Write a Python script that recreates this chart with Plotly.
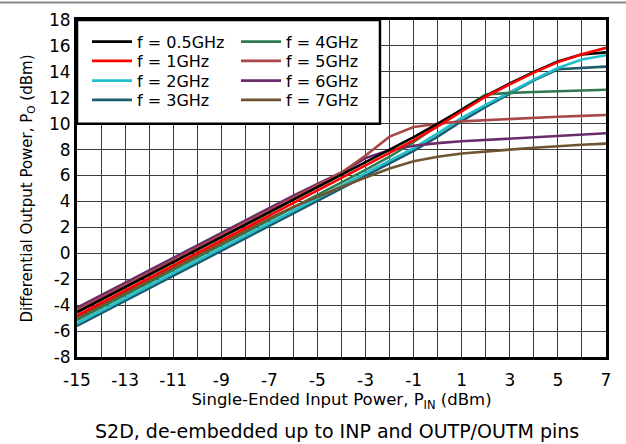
import plotly.graph_objects as go

# Input power (dBm)
pin = [-15, -14, -13, -12, -11, -10, -9, -8, -7, -6, -5, -4, -3, -2, -1, 0, 1, 2, 3, 4, 5, 6, 7]

# Differential output power (dBm) per frequency
p_05g = [-4.55, -3.59, -2.62, -1.66, -0.69, 0.28, 1.24, 2.21, 3.17, 4.14, 5.10, 6.07, 7.03, 8.00, 8.96,
         10.0, 11.05, 12.15, 13.1, 14.0, 14.8, 15.35, 15.5]
p_1g = [-4.8, -3.84, -2.87, -1.91, -0.94, 0.03, 0.99, 1.96, 2.92, 3.89, 4.85, 5.82, 6.78, 7.75, 8.71,
        9.8, 10.95, 12.1, 13.04, 13.94, 14.75, 15.35, 15.85]
p_2g = [-5.4, -4.44, -3.47, -2.51, -1.54, -0.58, 0.39, 1.36, 2.32, 3.29, 4.25, 5.22, 6.18, 7.15, 8.11,
        9.25, 10.45, 11.45, 12.45, 13.4, 14.3, 14.95, 15.28]
p_3g = [-5.6, -4.64, -3.67, -2.71, -1.74, -0.78, 0.19, 1.16, 2.12, 3.09, 4.05, 5.02, 5.98, 6.95, 7.91,
        9.0, 10.2, 11.3, 12.35, 13.35, 14.2, 14.3, 14.4]
p_4g = [-5.15, -4.19, -3.22, -2.26, -1.29, -0.33, 0.64, 1.61, 2.57, 3.54, 4.50, 5.47, 6.43, 7.45, 8.6,
        9.85, 11.1, 12.25, 12.38, 12.44, 12.5, 12.56, 12.62]
p_5g = [-4.4, -3.44, -2.47, -1.51, -0.54, 0.43, 1.39, 2.36, 3.32, 4.29, 5.25, 6.22, 7.55, 9.0, 9.75,
        10.0, 10.18, 10.28, 10.38, 10.46, 10.54, 10.6, 10.67]
p_6g = [-4.2, -3.24, -2.27, -1.31, -0.34, 0.63, 1.59, 2.56, 3.52, 4.45, 5.35, 6.25, 7.35, 7.95, 8.3,
        8.5, 8.64, 8.75, 8.86, 8.97, 9.08, 9.17, 9.26]
p_7g = [-4.95, -3.99, -3.02, -2.06, -1.09, -0.13, 0.84, 1.78, 2.7, 3.58, 4.38, 5.12, 5.85, 6.55, 7.1,
        7.45, 7.7, 7.87, 8.0, 8.14, 8.27, 8.37, 8.46]

names = ["f = 0.5GHz", "f = 1GHz", "f = 2GHz", "f = 3GHz", "f = 4GHz", "f = 5GHz", "f = 6GHz", "f = 7GHz"]
colors = ["#000000", "#FF0000", "#1FC0CC", "#1C5C6E", "#2F7A52", "#A84848", "#6B2C6C", "#6E5430"]
series = [p_05g, p_1g, p_2g, p_3g, p_4g, p_5g, p_6g, p_7g]

x_ticks = [-15, -13, -11, -9, -7, -5, -3, -1, 1, 3, 5, 7]
x_ticktext = ["-15", "-13", "-11", "-9", "-7", "-5", "-3", "-1", "1", "3", "5", "7"]
y_ticks = [-8, -6, -4, -2, 0, 2, 4, 6, 8, 10, 12, 14, 16, 18]
y_ticktext = ["-8", "-6", "-4", "-2", "0", "2", "4", "6", "8", "10", "12", "14", "16", "18"]

FONT = "DejaVu Sans"
W, H = 626, 444
ML, MR, MT, MB = 77, 20, 20, 87
PW, PH = W - ML - MR, H - MT - MB

# legend layout (pixel positions of each entry)
row_y = [41.7, 61.0, 80.7, 100.0]
col_x = [87, 236]

fig = go.Figure()
draw_order = [3, 2, 4, 7, 6, 5, 0, 1]
for i in draw_order:
    fig.add_trace(go.Scatter(
        x=pin, y=series[i], mode="lines", name=names[i],
        line=dict(color=colors[i], width=2.6),
        legend="legend" if i == 0 else f"legend{i + 1}",
    ))

legends = {}
for i in range(8):
    key = "legend" if i == 0 else f"legend{i + 1}"
    col, row = divmod(i, 4)
    legends[key] = dict(
        x=(col_x[col] - ML) / PW, y=1 - (row_y[row] - MT) / PH,
        xanchor="left", yanchor="middle",
        bgcolor="rgba(0,0,0,0)", borderwidth=0,
        font=dict(family=FONT, size=16, color="black"), itemwidth=40,
    )

grid_col = "#3c3c3c"
fig.update_layout(
    width=W, height=H,
    margin=dict(l=ML, r=MR, t=MT, b=MB),
    paper_bgcolor="white", plot_bgcolor="white",
    font=dict(family=FONT, color="black", size=16),
    showlegend=True,
    xaxis=dict(range=[-15, 7], tickvals=x_ticks, ticktext=x_ticktext,
               showgrid=True, gridcolor=grid_col, gridwidth=1.2,
               minor=dict(dtick=1, tick0=-15, showgrid=True, gridcolor=grid_col, gridwidth=1.2),
               showline=True, linecolor="black", linewidth=3, mirror=True,
               zeroline=False, ticks="", tickfont=dict(size=17, family=FONT),
               ticklabelstandoff=6,
               title=dict(text="Single-Ended Input Power, P<sub>IN</sub> (dBm)",
                          font=dict(size=16.5, family=FONT), standoff=3),
               automargin=False),
    yaxis=dict(range=[-8, 18], tickvals=y_ticks, ticktext=y_ticktext,
               showgrid=True, gridcolor=grid_col, gridwidth=1.2,
               showline=True, linecolor="black", linewidth=3, mirror=True,
               zeroline=False, ticks="", tickfont=dict(size=17, family=FONT),
               title=dict(text="Differential Output Power, P<sub>O</sub> (dBm)",
                          font=dict(size=15, family=FONT), standoff=13),
               automargin=False),
    **legends,
)

# legend box (white, covering the grid)
fig.add_shape(type="rect", xref="x", yref="y", x0=-15, x1=-2.4, y0=10, y1=18,
              line=dict(color="black", width=2.5), fillcolor="white", layer="above")

# top rule line
fig.add_shape(type="line", xref="paper", yref="paper",
              x0=-ML / PW, x1=(W - ML) / PW, y0=1 + 17.5 / PH, y1=1 + 17.5 / PH,
              line=dict(color="#8a8a8a", width=2))

fig.add_annotation(text="S2D, de-embedded up to INP and OUTP/OUTM pins",
                   xref="paper", yref="paper", x=(337 - ML) / PW, y=-(431 - (MT + PH)) / PH,
                   xanchor="center", yanchor="middle", showarrow=False,
                   font=dict(size=19, family=FONT, color="black"))

fig.write_html("out.html", config={"displayModeBar": False},
               post_script="document.body.style.margin='0';document.body.style.overflow='hidden';")
